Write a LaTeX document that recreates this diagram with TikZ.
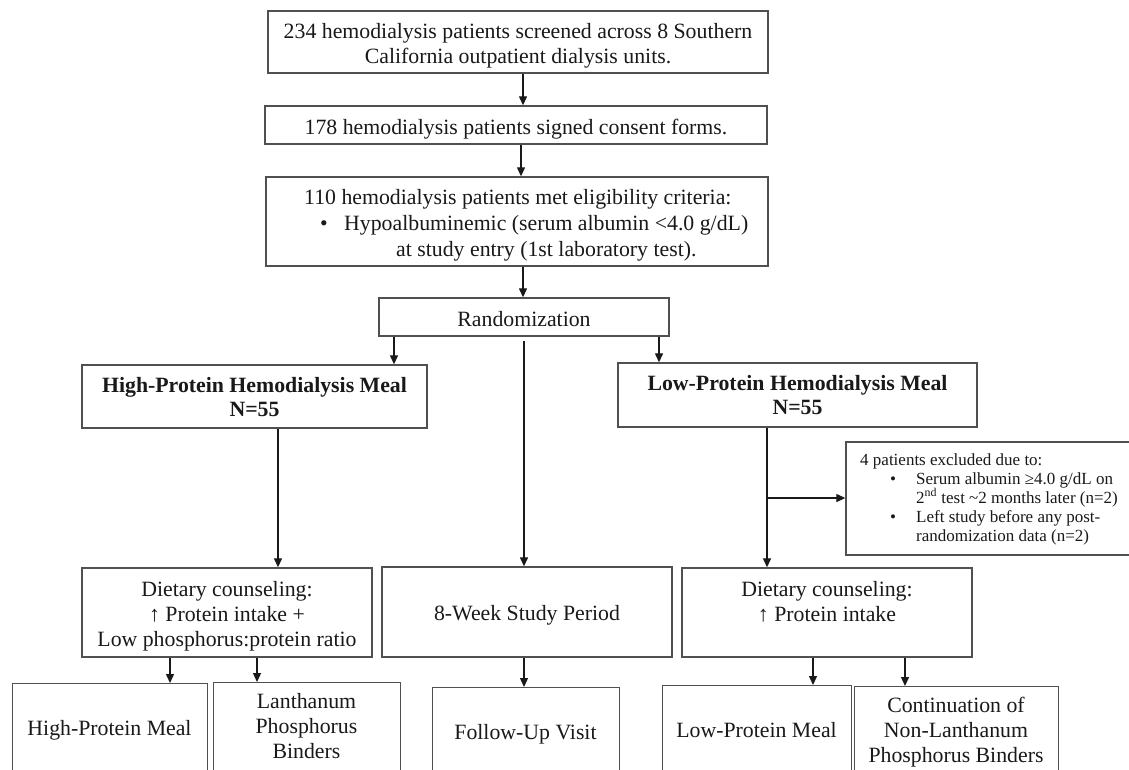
\documentclass[tikz,border=0pt]{standalone}
\usepackage{fontspec}
\setmainfont{Liberation Serif}
\usetikzlibrary{arrows.meta}
\definecolor{inkc}{RGB}{25,25,25}
\definecolor{edgec}{RGB}{80,80,80}
\newcommand\mfs{\fontsize{21.8}{25}\selectfont}
\newcommand\sfs{\fontsize{17}{19}\selectfont}
\begin{document}
\begin{tikzpicture}[x=1pt,y=-1pt,
  box/.style={draw=edgec, line width=1.4pt, rectangle, inner sep=0pt},
  txt/.style={text=inkc, inner sep=0pt, anchor=base, font=\mfs},
  ltxt/.style={text=inkc, inner sep=0pt, anchor=base west, font=\mfs},
  stxt/.style={text=inkc, inner sep=0pt, anchor=base west, font=\sfs},
  arr/.style={draw=inkc, line width=1.3pt, -{Triangle[length=9pt,width=8pt]}}]
\fill[white] (0,0) rectangle (1129,769);
\useasboundingbox (0,0) rectangle (1129,769);
\clip (0,0) rectangle (1129,769);
% top chain
\node[box, minimum width=500pt, minimum height=62pt] (b1) at (518,42) {};
\node[txt] (b1a) at (518,38) {234 hemodialysis patients screened across 8 Southern};
\node[txt] (b1b) at (518,63) {California outpatient dialysis units.};
\node[box, minimum width=502pt, minimum height=38pt] (b2) at (516,125) {};
\node[txt] (b2a) at (516,134) {178 hemodialysis patients signed consent forms.};
\node[box, minimum width=502pt, minimum height=89pt] (b3) at (517,221.5) {};
\node[ltxt] (b3a) at (304,204) {110 hemodialysis patients met eligibility criteria:};
\node[ltxt] (b3b) at (320,230) {\textbullet};
\node[ltxt] (b3c) at (344,230) {Hypoalbuminemic (serum albumin <4.0 g/dL)};
\node[ltxt] (b3d) at (396,256) {at study entry (1st laboratory test).};
\node[box, minimum width=290pt, minimum height=38pt] (rand) at (524,317) {};
\node[txt] (randt) at (524,326) {Randomization};
% arms
\node[box, minimum width=345pt, minimum height=63pt] (hp) at (254.5,396.5) {};
\node[txt] (hpa) at (254.5,392) {\textbf{High-Protein Hemodialysis Meal}};
\node[txt] (hpb) at (254.5,416) {\textbf{N=55}};
\node[box, minimum width=359pt, minimum height=64pt] (lp) at (797.5,395) {};
\node[txt] (lpa) at (797.5,390) {\textbf{Low-Protein Hemodialysis Meal}};
\node[txt] (lpb) at (797.5,414) {\textbf{N=55}};
% exclusion
\node[box, minimum width=289pt, minimum height=113pt] (ex) at (990.5,498.5) {};
\node[stxt] (ex1) at (860,465) {4 patients excluded due to:};
\node[stxt] (ex2) at (890,484) {\textbullet};
\node[stxt] (ex3) at (916,484) {Serum albumin ≥4.0 g/dL on};
\node[stxt] (ex4) at (916,503) {2\textsuperscript{nd} test \textasciitilde2 months later (n=2)};
\node[stxt] (ex5) at (890,522) {\textbullet};
\node[stxt] (ex6) at (916,522) {Left study before any post-};
\node[stxt] (ex7) at (916,541) {randomization data (n=2)};
% middle row
\node[box, minimum width=290pt, minimum height=89pt] (dl) at (227,612.5) {};
\node[txt] (dlt1) at (227,596) {Dietary counseling:};
\node[txt] (dlt2) at (227,621) {↑ Protein intake +};
\node[txt] (dlt3) at (227,646) {Low phosphorus:protein ratio};
\node[box, minimum width=290pt, minimum height=90pt] (wk) at (527,612) {};
\node[txt] (wkt) at (527,620) {8-Week Study Period};
\node[box, minimum width=290pt, minimum height=89pt] (dr) at (827,612.5) {};
\node[txt] (drt1) at (827,596) {Dietary counseling:};
\node[txt] (drt2) at (827,621) {↑ Protein intake};
% bottom row
\node[box, minimum width=195pt, minimum height=120pt, anchor=north west] (hpm) at (12,683) {};
\node[txt] (hpmt) at (109.5,735) {High-Protein Meal};
\node[box, minimum width=187pt, minimum height=120pt, anchor=north west] (lan) at (213,682) {};
\node[txt] (lant1) at (306.5,708) {Lanthanum};
\node[txt] (lant2) at (306.5,733) {Phosphorus};
\node[txt] (lant3) at (306.5,758) {Binders};
\node[box, minimum width=187pt, minimum height=120pt, anchor=north west] (fu) at (432,687) {};
\node[txt] (fut) at (525.5,739) {Follow-Up Visit};
\node[box, minimum width=189pt, minimum height=120pt, anchor=north west] (lpm) at (662,685) {};
\node[txt] (lpmt) at (756.5,737) {Low-Protein Meal};
\node[box, minimum width=204pt, minimum height=120pt, anchor=north west] (cont) at (854,686) {};
\node[txt] (cont1) at (956,712) {Continuation of};
\node[txt] (cont2) at (956,737) {Non-Lanthanum};
\node[txt] (cont3) at (956,762) {Phosphorus Binders};
% arrow columns
\coordinate (c523) at (523,0);
\coordinate (c521) at (521,0);
\coordinate (c394) at (394,0);
\coordinate (c659) at (659,0);
\coordinate (c524) at (524,0);
\coordinate (c278) at (278,0);
\coordinate (c767) at (767,0);
\coordinate (c170) at (170,0);
\coordinate (c257) at (257,0);
\coordinate (c813) at (813,0);
\coordinate (c905) at (905,0);
\coordinate (br) at (767,498);
% arrows
\draw[arr] (b1.south -| c523) -- (b2.north -| c523);
\draw[arr] (b2.south -| c521) -- (b3.north -| c521);
\draw[arr] (b3.south -| c523) -- (rand.north -| c523);
\draw[arr] (rand.south -| c394) -- (hp.north -| c394);
\draw[arr] (rand.south -| c659) -- (lp.north -| c659);
\draw[arr, shorten <=4pt] (rand.south -| c524) -- (wk.north -| c524);
\draw[arr] (hp.south -| c278) -- (dl.north -| c278);
\draw[arr] (lp.south -| c767) -- (dr.north -| c767);
\draw[arr] (br) -- (br -| ex.west);
\draw[arr] (dl.south -| c170) -- (hpm.north -| c170);
\draw[arr] (dl.south -| c257) -- (lan.north -| c257);
\draw[arr] (wk.south -| c524) -- (fu.north -| c524);
\draw[arr] (dr.south -| c813) -- (lpm.north -| c813);
\draw[arr] (dr.south -| c905) -- (cont.north -| c905);
\end{tikzpicture}
\end{document}
